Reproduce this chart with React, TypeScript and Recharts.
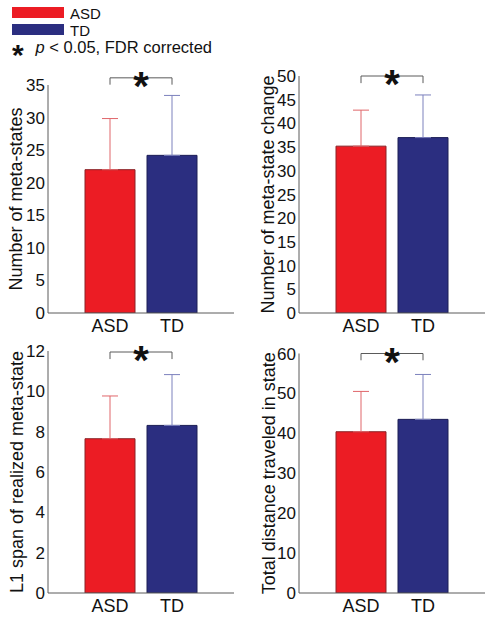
import React from 'react';
import { BarChart, Bar, XAxis, YAxis, Cell, ErrorBar, ReferenceLine, Legend, Text } from 'recharts';

const FONT = '"Liberation Sans", Arial, Helvetica, sans-serif';
const AXIS = '#5a5a5a';

const groups = ['ASD', 'TD'];
const groupColors = ['#ec1c24', '#2b2e80'];
const groupEdges = ['#8a2226', '#1c1e55'];
const errColors = ['#e0666a', '#7c81bd'];
const sigNote = 'p';
const sigRest = ' < 0.05, FDR corrected';

// Panel A: Number of meta-states
const titleA = 'Number of meta-states';
const meanA = [22.0, 24.2];
const sdA = [7.85, 9.2];
const ticksA = [0, 5, 10, 15, 20, 25, 30, 35];
const bracketA = [36.1, 35.05];

// Panel B: Number of meta-state change
const titleB = 'Number of meta-state change';
const meanB = [35.2, 37.0];
const sdB = [7.6, 9.0];
const ticksB = [0, 5, 10, 15, 20, 25, 30, 35, 40, 45, 50];
const bracketB = [50.0, 48.5];

// Panel C: L1 span of realized meta-state
const titleC = 'L1 span of realized meta-state';
const meanC = [7.65, 8.31];
const sdC = [2.12, 2.52];
const ticksC = [0, 2, 4, 6, 8, 10, 12];
const bracketC = [11.95, 11.6];

// Panel D: Total distance traveled in state
const titleD = 'Total distance traveled in state';
const meanD = [40.4, 43.5];
const sdD = [10.1, 11.25];
const ticksD = [0, 10, 20, 30, 40, 50, 60];
const bracketD = [60.0, 58.3];

function buildRows(means: number[], sds: number[]) {
  return groups.map((g, i) => ({
    group: g,
    mean: means[i],
    errA: i === 0 ? [0, sds[i]] : undefined,
    errB: i === 1 ? [0, sds[i]] : undefined,
  }));
}

const AxisTitle = (props: any) => (
  <Text
    x={props.titleX}
    y={props.titleY}
    angle={-90}
    textAnchor="middle"
    verticalAnchor="middle"
    fontSize={18}
    fill="#111"
    fontFamily={FONT}
  >
    {props.text}
  </Text>
);

const LegendBox = () => (
  <div style={{ position: 'relative', width: 240, height: 62, fontFamily: FONT, color: '#111' }}>
    {groups.map((g, i) => (
      <React.Fragment key={g}>
        <div
          style={{
            position: 'absolute',
            left: 12,
            top: i === 0 ? 7 : 23.5,
            width: 52,
            height: i === 0 ? 10.5 : 11,
            background: groupColors[i],
          }}
        />
        <div style={{ position: 'absolute', left: 70, top: i === 0 ? 5.5 : 22.5, fontSize: 15, lineHeight: '15px' }}>
          {g}
        </div>
      </React.Fragment>
    ))}
    <div style={{ position: 'absolute', left: 12, top: 40, fontSize: 30, lineHeight: '30px', fontWeight: 'bold' }}>*</div>
    <div style={{ position: 'absolute', left: 35.5, top: 39.4, fontSize: 16.5, lineHeight: '16.5px', whiteSpace: 'pre' }}>
      <i>{sigNote}</i>
      {sigRest}
    </div>
  </div>
);

type PanelProps = {
  left: number;
  top: number;
  width: number;
  height: number;
  plotTop: number;
  plotBottom: number;
  axisW: number;
  right: number;
  title: string;
  titleX: number;
  means: number[];
  sds: number[];
  ticks: number[];
  bracket: number[];
  legend?: boolean;
};

function Panel(p: PanelProps) {
  const rows = buildRows(p.means, p.sds);
  const domain = [p.ticks[0], p.ticks[p.ticks.length - 1]];
  const xH = 24;
  const titleY = (p.plotTop + p.plotBottom) / 2;
  const [sigY, sigEnd] = p.bracket;
  return (
    <div style={{ position: 'absolute', left: p.left, top: p.top, fontFamily: FONT }}>
      <BarChart
        width={p.width}
        height={p.height}
        data={rows}
        margin={{ top: p.plotTop, right: p.right, bottom: p.height - p.plotBottom - xH, left: 0 }}
        barSize={50}
        barGap={-50}
      >
        <XAxis
          dataKey="group"
          padding={{ left: 31, right: 31 }}
          tickLine={false}
          tickSize={4}
          tickMargin={2.6}
          axisLine={{ stroke: AXIS }}
          tick={{ fontSize: 18, fill: '#111', fontFamily: FONT }}
          height={xH}
          interval={0}
        />
        <XAxis
          xAxisId="end"
          type="number"
          domain={[0, 1]}
          ticks={[1]}
          allowDataOverflow
          mirror
          tick={false}
          axisLine={false}
          tickSize={6}
          tickLine={{ stroke: AXIS }}
          height={0}
        />
        <YAxis
          width={p.axisW}
          type="number"
          domain={domain}
          ticks={p.ticks}
          allowDataOverflow
          interval={0}
          tickLine={false}
          tickSize={0}
          tickMargin={3}
          axisLine={{ stroke: AXIS }}
          tick={{ fontSize: 17, fill: '#111', fontFamily: FONT }}
          label={<AxisTitle text={p.title} titleX={p.titleX} titleY={titleY} />}
        />
        <YAxis
          yAxisId="inner"
          width={0}
          mirror
          type="number"
          domain={domain}
          ticks={p.ticks}
          allowDataOverflow
          interval={0}
          tick={false}
          axisLine={false}
          tickSize={4}
          tickLine={{ stroke: AXIS }}
        />
        <Bar dataKey="mean" fill="none" stroke="none" isAnimationActive={false} legendType="none">
          <ErrorBar dataKey="errA" width={8} stroke={errColors[0]} strokeWidth={1} direction="y" />
          <ErrorBar dataKey="errB" width={8} stroke={errColors[1]} strokeWidth={1} direction="y" />
        </Bar>
        <Bar dataKey="mean" isAnimationActive={false}>
          {rows.map((r, i) => (
            <Cell key={r.group} fill={groupColors[i]} stroke={groupEdges[i]} strokeWidth={1} />
          ))}
        </Bar>
        <ReferenceLine
          segment={[{ x: groups[0], y: sigEnd }, { x: groups[0], y: sigY }]}
          stroke={AXIS}
          strokeWidth={1}
          ifOverflow="visible"
        />
        <ReferenceLine
          segment={[{ x: groups[0], y: sigY }, { x: groups[1], y: sigY }]}
          stroke={AXIS}
          strokeWidth={1}
          ifOverflow="visible"
          label={{ value: '*', position: 'center', fontSize: 40, fontWeight: 'bold', fill: '#111', dy: 8, fontFamily: FONT }}
        />
        <ReferenceLine
          segment={[{ x: groups[1], y: sigY }, { x: groups[1], y: sigEnd }]}
          stroke={AXIS}
          strokeWidth={1}
          ifOverflow="visible"
        />
        {p.legend ? (
          <Legend
            layout="vertical"
            align="center"
            verticalAlign="middle"
            wrapperStyle={{ top: 0, left: 0, width: 240, height: 62 }}
            content={() => <LegendBox />}
          />
        ) : null}
      </BarChart>
    </div>
  );
}

export default function App() {
  return (
    <div style={{ position: 'absolute', left: 0, top: 0, width: 491, height: 618, background: '#fff', fontFamily: FONT }}>
      <Panel left={0} top={0} width={250} height={337} plotTop={85} plotBottom={313} axisW={48} right={16}
        title={titleA} titleX={16} means={meanA} sds={sdA} ticks={ticksA} bracket={bracketA} legend />
      <Panel left={250} top={0} width={241} height={337} plotTop={76} plotBottom={313} axisW={49} right={6}
        title={titleB} titleX={17.5} means={meanB} sds={sdB} ticks={ticksB} bracket={bracketB} />
      <Panel left={0} top={330} width={250} height={287} plotTop={21} plotBottom={263} axisW={48} right={16}
        title={titleC} titleX={17} means={meanC} sds={sdC} ticks={ticksC} bracket={bracketC} />
      <Panel left={250} top={330} width={241} height={287} plotTop={23.5} plotBottom={263} axisW={49} right={6}
        title={titleD} titleX={18.5} means={meanD} sds={sdD} ticks={ticksD} bracket={bracketD} />
    </div>
  );
}
